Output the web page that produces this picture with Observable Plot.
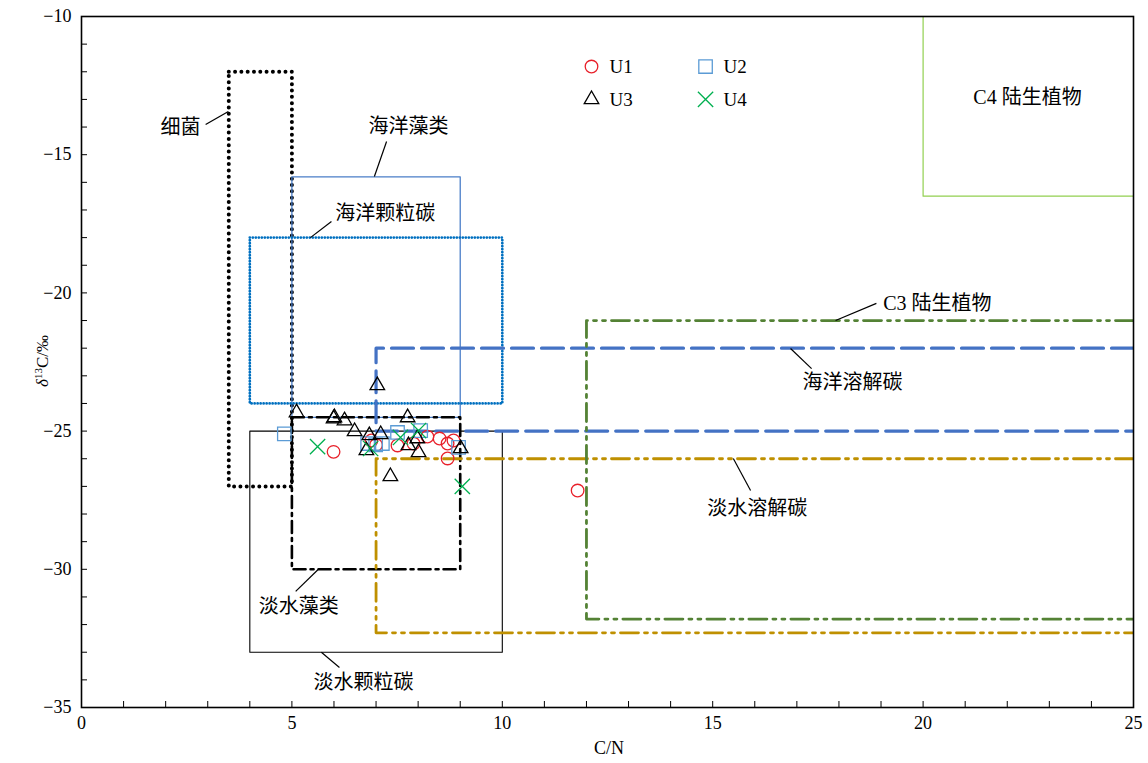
<!DOCTYPE html>
<html><head><meta charset="utf-8">
<script src="https://cdn.jsdelivr.net/npm/d3@7"></script>
<script src="https://cdn.jsdelivr.net/npm/@observablehq/plot@0.6"></script>
<style>body{margin:0;background:#fff}#chart{position:relative;width:1148px;height:763px}</style>
</head><body><div id="chart"></div>
<script>
// ---- data ----
const u1 = [[5.99,-25.75],[6.89,-25.34],[7.0,-25.5],[7.51,-25.52],[7.89,-25.45],[8.22,-25.2],[8.51,-25.27],[8.70,-25.45],[8.84,-25.34],[8.70,-25.99],[11.79,-27.15]];
const u2 = [[4.82,-25.1],[6.80,-25.45],[6.99,-25.5],[7.15,-25.45],[7.51,-25.05],[8.06,-24.98],[8.96,-25.59]];
const u3 = [[5.11,-24.33],[6.01,-24.51],[5.99,-24.55],[6.25,-24.62],[6.49,-25.01],[6.84,-25.16],[7.11,-25.12],[6.77,-25.7],[7.03,-23.35],[7.75,-24.51],[7.98,-25.27],[8.01,-25.77],[7.77,-25.52],[7.34,-26.64],[9.01,-25.63]];
const u4 = [[5.61,-25.56],[6.87,-25.63],[7.58,-25.23],[8.01,-24.98],[9.05,-27.0]];

const seriesNames = ["U1","U2","U3","U4"];

// source regions: C/N range and δ13C range
const regionNames = ["细菌","海洋藻类","海洋颗粒碳","淡水藻类","淡水颗粒碳","海洋溶解碳","淡水溶解碳","C3 陆生植物","C4 陆生植物"];
const regionCN1  = [3.5, 5, 4, 5, 4, 7, 7, 12, 20];
const regionCN2  = [5, 9, 10, 9, 10, 25, 25, 25, 25];
const regionD1   = [-12, -15.8, -18, -24.5, -25, -22, -26, -21, -10];
const regionD2   = [-27, -24.5, -24, -30, -33, -25, -32.3, -31.8, -16.5];

// annotation label positions (data units) and leader lines
const labelX  = [2.35, 7.77, 7.22, 5.16, 6.70, 18.32, 16.06, 20.34, 22.48];
const labelY  = [-14.02, -13.98, -17.13, -31.35, -34.1, -23.24, -27.8, -20.38, -12.93];
const leadX1  = [2.95, 6.96, 5.44, 5.09, 5.70, 16.85, 15.49, 17.92, null];
const leadY1  = [-13.91, -15.79, -18.0, -30.8, -33.0, -22.01, -25.99, -21.0, null];
const leadX2  = [3.49, 7.25, 5.94, 5.63, 6.13, 17.35, 15.90, 18.89, null];
const leadY2  = [-13.44, -14.52, -17.42, -30.0, -33.55, -22.74, -27.15, -20.38, null];

const xMajor = [0,5,10,15,20,25];
const yMajor = [-35,-30,-25,-20,-15,-10];
const xMinor = d3.range(0,26,1);
const yMinor = d3.range(-35,-9,1);

// legend slots (data units)
const legendX = [12.12, 14.83, 12.12, 14.83];
const legendY = [-11.81, -11.81, -13.0, -13.0];

// ---- styles ----
const FONT = "Liberation Serif, Noto Sans CJK SC, serif";
const regionStyle = {
  "细菌":      {stroke:"#000", strokeWidth:4, strokeDasharray:"0 6.3", strokeLinecap:"round"},
  "海洋藻类":   {stroke:"#4a7ec8", strokeWidth:1.3},
  "海洋颗粒碳": {stroke:"#0070c0", strokeWidth:2.8, strokeDasharray:"0 3", strokeLinecap:"round"},
  "淡水藻类":   {stroke:"#000", strokeWidth:2.6, strokeDasharray:"12 5 3 5"},
  "淡水颗粒碳": {stroke:"#000", strokeWidth:1.1},
  "海洋溶解碳": {stroke:"#4472c4", strokeWidth:3.2, strokeDasharray:"22 8"},
  "淡水溶解碳": {stroke:"#bf9000", strokeWidth:2.8, strokeDasharray:"18 6 3 6 3 6"},
  "C3 陆生植物": {stroke:"#548235", strokeWidth:2.8, strokeDasharray:"18 6 3 6 3 6"},
  "C4 陆生植物": {stroke:"#92d050", strokeWidth:1.2}
};
const seriesStyle = {
  U1:{symbol:"circle", stroke:"#e8202a", r:6.3},
  U2:{symbol:"square", stroke:"#5b9bd5", r:7.6},
  U3:{symbol:"triangle", stroke:"#000", r:5.4},
  U4:{symbol:"times", stroke:"#00b050", r:7}
};

// ---- build ----
const regionMarks = regionNames.map((n,i) => {
  const x1=regionCN1[i], x2=regionCN2[i], y1=regionD1[i], y2=regionD2[i];
  const open = x2 >= 25 && n !== "C4 陆生植物";
  let pts;
  if (n === "C4 陆生植物") pts = [[x1,y1],[x1,y2],[x2,y2]];
  else if (open) pts = [[x2,y1],[x1,y1],[x1,y2],[x2,y2]];
  else pts = [[x1,y1],[x2,y1],[x2,y2],[x1,y2],[x1,y1]];
  return Plot.line(pts, {x:d=>d[0], y:d=>d[1], ...regionStyle[n], clip:true});
});

const seriesData = [u1,u2,u3,u4];
const pointMarks = seriesData.map((arr,i) => {
  const s = seriesStyle[seriesNames[i]];
  return Plot.dot(arr, {x:d=>d[0], y:d=>d[1], symbol:s.symbol, r:s.r, stroke:s.stroke, fill:"none", strokeWidth:1.3});
});
const legendMarks = seriesNames.flatMap((n,i) => {
  const s = seriesStyle[n];
  return [
    Plot.dot([i], {x:j=>legendX[j], y:j=>legendY[j], symbol:s.symbol, r:s.r, stroke:s.stroke, fill:"none", strokeWidth:1.3}),
    Plot.text([i], {x:j=>legendX[j], y:j=>legendY[j], text:j=>seriesNames[j], dx:18, textAnchor:"start", fontSize:19, fill:"#000"})
  ];
});

const idx = d3.range(regionNames.length);
const plot = Plot.plot({
  width:1148, height:763,
  marginLeft:81, marginRight:15, marginTop:16, marginBottom:56,
  x:{domain:[0,25]},
  y:{domain:[-35,-10]},
  style:{fontFamily:FONT, fontSize:"17px", background:"white", color:"#000"},
  marks:[
    ...regionMarks,
    Plot.link(idx.filter(i=>leadX1[i]!=null), {x1:i=>leadX1[i], y1:i=>leadY1[i], x2:i=>leadX2[i], y2:i=>leadY2[i], stroke:"#000", strokeWidth:1.2}),
    Plot.text(idx, {x:i=>labelX[i], y:i=>labelY[i], text:i=>regionNames[i], fontSize:20, fill:"#000"}),
    ...pointMarks,
    ...legendMarks,
    Plot.ruleX(xMinor.filter(d=>d>0&&d<25), {y1:-35, y2:-35+6/27.64, stroke:"#000", strokeWidth:1}),
    Plot.ruleY(yMinor.filter(d=>d>-35&&d<-10), {x1:0, x2:6/42.08, stroke:"#000", strokeWidth:1}),
    Plot.axisX({ticks:xMajor, tickSize:0, tickPadding:9, label:null, tickFormat:d=>String(d), fontSize:18}),
    Plot.axisY({ticks:yMajor, tickSize:0, tickPadding:10, label:null, tickFormat:d=>d<0?"\u2212"+Math.abs(d):String(d), fontSize:18}),
    Plot.frame({stroke:"#000", strokeWidth:1.6})
  ]
});
document.getElementById("chart").appendChild(plot);

const svg = d3.select(plot);
svg.selectAll("text").style("font-family", FONT);
// axis titles
svg.append("text").attr("x",609).attr("y",754).attr("text-anchor","middle")
  .style("font-family",FONT).attr("font-size",18).text("C/N");
const yl = svg.append("text").attr("transform","translate(48,361) rotate(-90)").attr("text-anchor","middle")
  .style("font-family",FONT).attr("font-size",17);
yl.append("tspan").attr("font-style","italic").text("δ");
yl.append("tspan").attr("font-size",11).attr("dy",-6).text("13");
yl.append("tspan").attr("dy",6).text("C/‰");
</script></body></html>
